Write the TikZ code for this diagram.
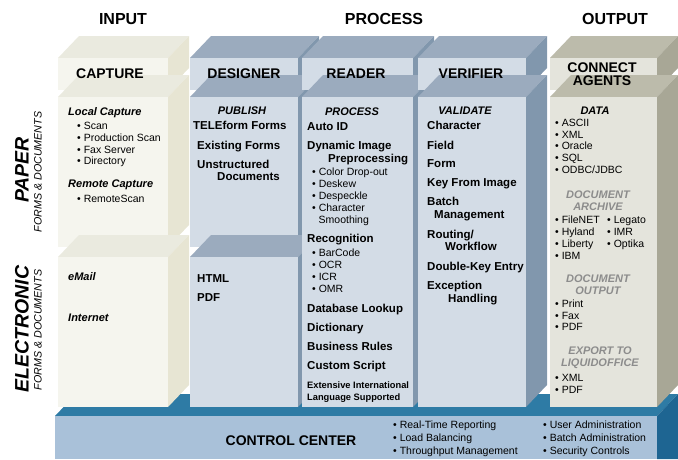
\documentclass[tikz,border=0pt]{standalone}
\usepackage{fontspec}
\setmainfont{Liberation Sans}
\usetikzlibrary{positioning}
\definecolor{capfront}{HTML}{F5F5EE}
\definecolor{captop}{HTML}{EAEADF}
\definecolor{capside}{HTML}{E7E5D3}
\definecolor{profront}{HTML}{D3DCE6}
\definecolor{protop}{HTML}{9BABBE}
\definecolor{proside}{HTML}{8197AD}
\definecolor{outfront}{HTML}{E4E4DC}
\definecolor{outtop}{HTML}{BCBBAB}
\definecolor{outside}{HTML}{A8A796}
\definecolor{ccfront}{HTML}{A9C1D9}
\definecolor{cctop}{HTML}{2E7BA5}
\definecolor{ccside}{HTML}{1E6592}
\definecolor{subgray}{HTML}{8C8C8C}
\tikzstyle{colhead} = [font=\fontsize{16}{18}\selectfont\bfseries]
\tikzstyle{boxtitle} = [font=\fontsize{14}{13}\selectfont\bfseries, align=center, inner sep=0pt]
\tikzstyle{subhead} = [font=\fontsize{11}{12}\selectfont\bfseries\itshape, inner sep=0pt]
\tikzstyle{graysub} = [subhead, text=subgray]
\tikzstyle{item} = [font=\fontsize{11.5}{12}\selectfont\bfseries, anchor=mid west, inner sep=0pt]
\tikzstyle{smallitem} = [font=\fontsize{9.3}{11}\selectfont\bfseries, anchor=mid west, inner sep=0pt]
\tikzstyle{bullet} = [font=\fontsize{10.5}{12}\selectfont, anchor=mid west, inner sep=0pt]
\tikzstyle{sidelabel} = [rotate=90, font=\fontsize{19.5}{20}\selectfont\bfseries\itshape, inner sep=0pt]
\tikzstyle{sidesub} = [rotate=90, font=\fontsize{10.7}{12}\selectfont\itshape, inner sep=0pt]
% box with top and right faces, #5 = colour prefix
\newcommand{\slab}[5]{%
\fill[#5top] (#1,#2) -- (#1+21,#2-22) -- (#3+21,#2-22) -- (#3,#2) -- cycle;
\fill[#5side] (#3,#2) -- (#3+21,#2-22) -- (#3+21,#4-22) -- (#3,#4) -- cycle;
\fill[#5front] (#1,#2) rectangle (#3,#4);}

\begin{document}
\begin{tikzpicture}[x=1pt,y=-1pt]
\useasboundingbox (0,0) rectangle (678,459);

% control center slab
\fill[cctop] (55,416) -- (76,394) -- (678,394) -- (657,416) -- cycle;
\fill[ccside] (657,416) -- (678,394) -- (678,459) -- (657,459) -- cycle;
\fill[ccfront] (55,416) rectangle (657,459);

% columns
\slab{58}{58}{168}{90}{cap}
\slab{58}{97}{168}{247}{cap}
\slab{58}{257}{168}{407}{cap}
\slab{190}{58}{298}{90}{pro}
\slab{190}{97}{298}{247}{pro}
\slab{190}{257}{298}{407}{pro}
\slab{302}{58}{413}{90}{pro}
\slab{302}{97}{413}{407}{pro}
\slab{418}{58}{526}{90}{pro}
\slab{418}{97}{526}{407}{pro}
\slab{550}{58}{657}{90}{out}
\slab{550}{97}{657}{407}{out}

% headings
\node (input) [colhead] at (123,19) {INPUT};
\node (process) [colhead] at (384,19) {PROCESS};
\node (output) [colhead] at (615,19) {OUTPUT};

\node (capture) [boxtitle] at (110,74) {CAPTURE};
\node (designer) [boxtitle] at (244,74) {DESIGNER};
\node (reader) [boxtitle] at (356,74) {READER};
\node (verifier) [boxtitle] at (471,74) {VERIFIER};
\node (connect) [boxtitle] at (602,74) {CONNECT\\AGENTS};

% row labels
\node (paper) [sidelabel] at (22,170) {PAPER};
\node (paperfd) [sidesub] at (38,172) {FORMS \& DOCUMENTS};
\node (electronic) [sidelabel] at (22,329) {ELECTRONIC};
\node (elecfd) [sidesub] at (38,330) {FORMS \& DOCUMENTS};

% capture
\node (loccap) [subhead, anchor=mid west] at (68,113) {Local Capture};
\node (cap1) [bullet] at (77,127) {• Scan};
\node (cap2) [bullet] at (77,139) {• Production Scan};
\node (cap3) [bullet] at (77,151) {• Fax Server};
\node (cap4) [bullet] at (77,162) {• Directory};
\node (remcap) [subhead, anchor=mid west] at (68,185) {Remote Capture};
\node (cap5) [bullet] at (77,200) {• RemoteScan};
\node (email) [subhead, anchor=mid west] at (68,278) {eMail};
\node (internet) [subhead, anchor=mid west] at (68,319) {Internet};

% designer
\node (publish) [subhead] at (242,111) {PUBLISH};
\node (des1) [item] at (193,127) {TELEform Forms};
\node (des2) [item] at (197,147) {Existing Forms};
\node (des3) [item] at (197,166) {Unstructured};
\node (des3b) [item] at (217,178) {Documents};
\node (des4) [item] at (197,280) {HTML};
\node (des5) [item] at (197,299) {PDF};

% reader
\node (procsub) [subhead] at (352,112) {PROCESS};
\node (rd1) [item] at (307,128) {Auto ID};
\node (rd2) [item] at (307,147) {Dynamic Image};
\node (rd2b) [item] at (328,160) {Preprocessing};
\node (rd3) [bullet] at (312,173) {• Color Drop-out};
\node (rd4) [bullet] at (312,185) {• Deskew};
\node (rd5) [bullet] at (312,197) {• Despeckle};
\node (rd6) [bullet] at (312,209) {• Character};
\node (rd6b) [bullet] at (318.5,221) {Smoothing};
\node (rd7) [item] at (307,240) {Recognition};
\node (rd8) [bullet] at (312,254) {• BarCode};
\node (rd9) [bullet] at (312,266) {• OCR};
\node (rd10) [bullet] at (312,278) {• ICR};
\node (rd11) [bullet] at (312,290) {• OMR};
\node (rd12) [item] at (307,310) {Database Lookup};
\node (rd13) [item] at (307,329) {Dictionary};
\node (rd14) [item] at (307,348) {Business Rules};
\node (rd15) [item] at (307,367) {Custom Script};
\node (rd16) [smallitem] at (307,386) {Extensive International};
\node (rd16b) [smallitem] at (307,398) {Language Supported};

% verifier
\node (validate) [subhead] at (465,111) {VALIDATE};
\node (ver1) [item] at (427,127) {Character};
\node (ver2) [item] at (427,147) {Field};
\node (ver3) [item] at (427,165) {Form};
\node (ver4) [item] at (427,184) {Key From Image};
\node (ver5) [item] at (427,203) {Batch};
\node (ver5b) [item] at (434,216) {Management};
\node (ver6) [item] at (427,236) {Routing/};
\node (ver6b) [item] at (445,248) {Workflow};
\node (ver7) [item] at (427,268) {Double-Key Entry};
\node (ver8) [item] at (427,287) {Exception};
\node (ver8b) [item] at (448,300) {Handling};

% connect agents
\node (data) [subhead] at (595,111) {DATA};
\node (out1) [bullet] at (555,124) {• ASCII};
\node (out2) [bullet] at (555,136) {• XML};
\node (out3) [bullet] at (555,147) {• Oracle};
\node (out4) [bullet] at (555,159) {• SQL};
\node (out5) [bullet] at (555,171) {• ODBC/JDBC};
\node (archive) [graysub, align=center] at (598,201) {DOCUMENT\\ARCHIVE};
\node (arc1) [bullet] at (555,221) {• FileNET};
\node (arc2) [bullet] at (555,233) {• Hyland};
\node (arc3) [bullet] at (555,245) {• Liberty};
\node (arc4) [bullet] at (555,257) {• IBM};
\node (arc5) [bullet] at (607,221) {• Legato};
\node (arc6) [bullet] at (607,233) {• IMR};
\node (arc7) [bullet] at (607,245) {• Optika};
\node (docout) [graysub, align=center] at (598,285) {DOCUMENT\\OUTPUT};
\node (dout1) [bullet] at (555,305) {• Print};
\node (dout2) [bullet] at (555,317) {• Fax};
\node (dout3) [bullet] at (555,328) {• PDF};
\node (export) [graysub, align=center] at (600,358) {EXPORT TO\\LIQUIDOFFICE};
\node (exp1) [bullet] at (555,379) {• XML};
\node (exp2) [bullet] at (555,391) {• PDF};

% control center
\node (control) [boxtitle] at (291,441) {CONTROL CENTER};
\node (cc1) [bullet] at (393,426) {• Real-Time Reporting};
\node (cc2) [bullet] at (393,439) {• Load Balancing};
\node (cc3) [bullet] at (393,452) {• Throughput Management};
\node (cc4) [bullet] at (543,426) {• User Administration};
\node (cc5) [bullet] at (543,439) {• Batch Administration};
\node (cc6) [bullet] at (543,452) {• Security Controls};

\end{tikzpicture}
\end{document}
